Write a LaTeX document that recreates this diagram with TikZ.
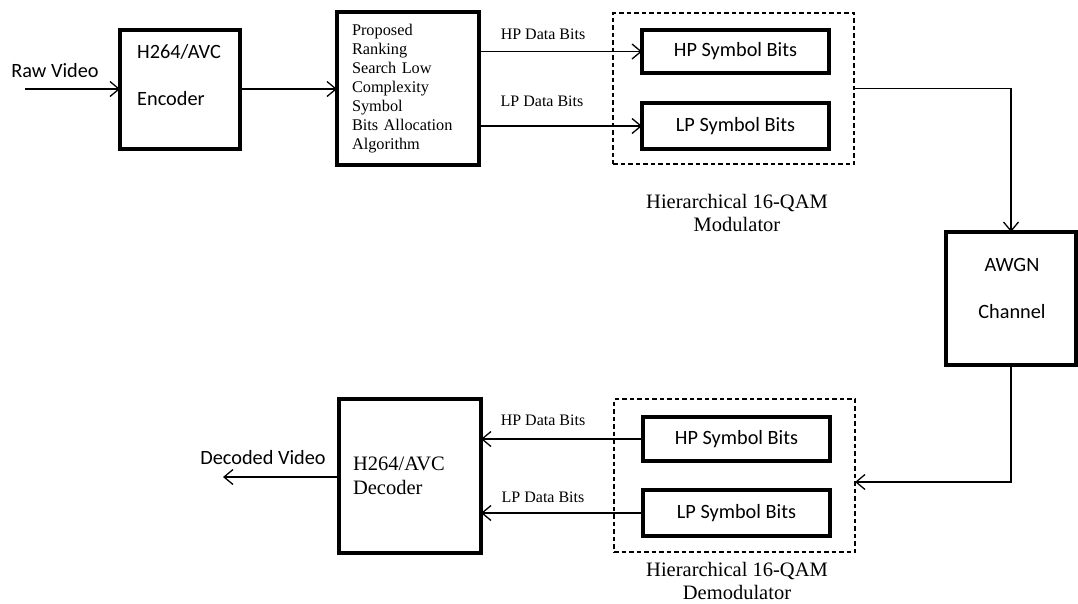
\documentclass[tikz,border=0pt]{standalone}
\usepackage{fontspec}
\setmainfont{Liberation Serif}
\newfontfamily\sansfont{Carlito}
\usetikzlibrary{arrows.meta,calc}
\begin{document}
\begin{tikzpicture}[x=1pt,y=-1pt,
  blk/.style={draw, line width=3.6pt, inner sep=0pt, outer sep=0pt},
  dbox/.style={draw, line width=1.2pt, dash pattern=on 4.5pt off 3pt, inner sep=0pt, outer sep=0pt},
  conn/.style={line width=1.3pt, -{Straight Barb[length=9pt,width=15pt,line width=1.3pt]}},
  lbl/.style={font=\fontsize{16}{19}\selectfont, inner sep=0pt},
  captxt/.style={font=\fontsize{20.5}{23}\selectfont, inner sep=0pt, align=center},
  stxt/.style={font=\sansfont\fontsize{20.3}{23}\selectfont, inner sep=0pt},
]
\useasboundingbox (0,0) rectangle (1078,603);

% Encoder
\node[blk, minimum width=120pt, minimum height=119pt] (enc) at (180,89.5) {};
\node[stxt, anchor=west] (enct1) at (137,52) {H264/AVC};
\node[stxt, anchor=west] (enct2) at (137,99) {Encoder};

% Proposed algorithm
\node[blk, minimum height=153pt, text width=112pt, inner xsep=15pt, align=left,
      font=\fontsize{16.3}{19}\selectfont] (prop) at (408,88.5)
  {Proposed\\Ranking\\Search Low\\Complexity\\Symbol\\Bits Allocation\\Algorithm};

% Modulator
\node[dbox, minimum width=241pt, minimum height=151pt] (mod) at (733.5,88.5) {};
\node[blk, minimum width=187pt, minimum height=43pt, stxt] (hpm) at (735.5,51.5) {HP Symbol Bits};
\node[blk, minimum width=187pt, minimum height=46pt, stxt] (lpm) at (735.5,126) {LP Symbol Bits};
\node[captxt] (modcap) at (737,212.5) {Hierarchical 16-QAM\\Modulator};

% AWGN
\node[blk, minimum width=130pt, minimum height=133pt] (awgn) at (1011,298.5) {};
\node[stxt] (awgnt1) at (1012,265) {AWGN};
\node[stxt] (awgnt2) at (1012,312) {Channel};

% Demodulator
\node[dbox, minimum width=241pt, minimum height=153pt] (demod) at (734.5,475.5) {};
\node[blk, minimum width=187pt, minimum height=44pt, stxt] (hpd) at (736.5,439) {HP Symbol Bits};
\node[blk, minimum width=187pt, minimum height=46pt, stxt] (lpd) at (736.5,513) {LP Symbol Bits};
\node[captxt] (demodcap) at (737,581) {Hierarchical 16-QAM\\Demodulator};

% Decoder
\node[blk, minimum height=154pt, text width=114pt, inner xsep=14pt, align=left,
      font=\fontsize{20.5}{24}\selectfont] (dec) at (410,476) {H264/AVC\\Decoder};

% Labels
\node[stxt] (rawlbl) at (55,71) {Raw Video};
\node[stxt] (declbl) at (263,458) {Decoded Video};
\node[lbl] (hptop) at (543,34) {HP Data Bits};
\node[lbl] (lptop) at (542,101) {LP Data Bits};
\node[lbl] (hpbot) at (543,420) {HP Data Bits};
\node[lbl] (lpbot) at (543,497) {LP Data Bits};

% Connectors
\coordinate (rawin) at (25,89);
\coordinate (decout) at (223,477);
\coordinate (dmin) at (855,482);

\draw[conn] (rawin) -- (enc.west |- rawin);
\draw[conn] (enc.east |- rawin) -- (prop.west |- rawin);
\draw[conn] (prop.east |- hpm.west) -- (hpm.west);
\draw[conn] (prop.east |- lpm.west) -- (lpm.west);
\draw[conn] (mod.east) -| (awgn.north);
\draw[conn] (awgn.south) |- (dmin);
\draw[conn] (hpd.west) -- (dec.east |- hpd.west);
\draw[conn] (lpd.west) -- (dec.east |- lpd.west);
\draw[conn] (dec.west |- decout) -- (decout);
\end{tikzpicture}
\end{document}
